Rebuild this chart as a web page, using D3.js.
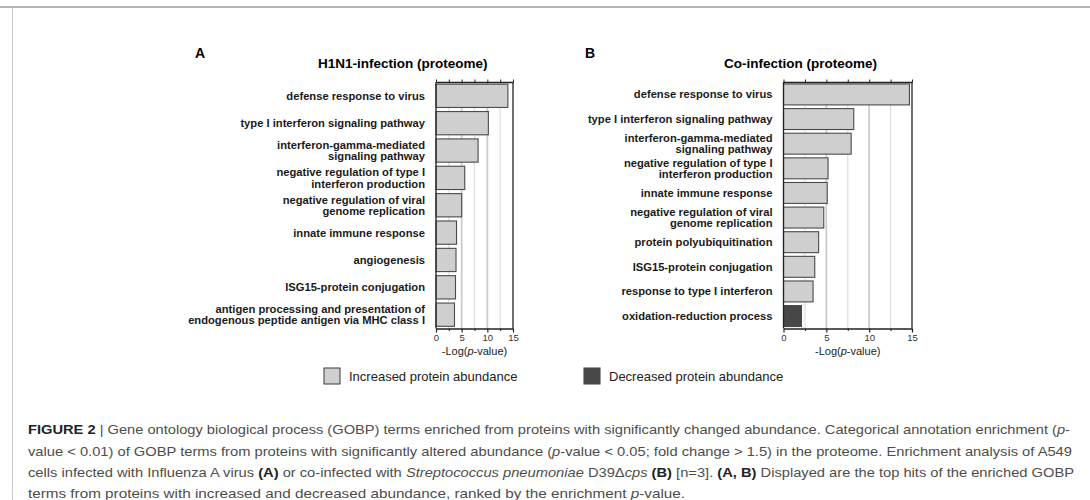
<!DOCTYPE html>
<html>
<head>
<meta charset="utf-8">
<script src="https://cdn.jsdelivr.net/npm/d3@7"></script>
<style>
  body { margin: 0; background: #fff; }
  svg { display: block; font-family: "Liberation Sans", Arial, sans-serif; }
</style>
</head>
<body>
<svg id="fig" width="1090" height="500"></svg>
<script>
// panel A: H1N1-infection
const termsA = [
  "defense response to virus",
  "type I interferon signaling pathway",
  "interferon-gamma-mediated\nsignaling pathway",
  "negative regulation of type I\ninterferon production",
  "negative regulation of viral\ngenome replication",
  "innate immune response",
  "angiogenesis",
  "ISG15-protein conjugation",
  "antigen processing and presentation of\nendogenous peptide antigen via MHC class I"
];
const valuesA = [14.0, 10.2, 8.2, 5.6, 5.0, 4.0, 3.9, 3.8, 3.6];
const directionA = ["up","up","up","up","up","up","up","up","up"];

// panel B: co-infection
const termsB = [
  "defense response to virus",
  "type I interferon signaling pathway",
  "interferon-gamma-mediated\nsignaling pathway",
  "negative regulation of type I\ninterferon production",
  "innate immune response",
  "negative regulation of viral\ngenome replication",
  "protein polyubiquitination",
  "ISG15-protein conjugation",
  "response to type I interferon",
  "oxidation-reduction process"
];
const valuesB = [14.7, 8.2, 7.9, 5.2, 5.1, 4.7, 4.1, 3.65, 3.45, 2.1];
const directionB = ["up","up","up","up","up","up","up","up","up","down"];

const xDomain = [0, 15];
const majorTicks = [0, 5, 10, 15];
const minorTicks = [2.5, 7.5, 12.5];
const gridTicks = [2.5, 5, 7.5, 10, 12.5];

const legendLabels = ["Increased protein abundance", "Decreased protein abundance"];
const fillFor = {up: "#cfcfcf", down: "#474747"};

const svg = d3.select("#fig");

// figure frame
svg.append("line").attr("x1", 0).attr("x2", 1090).attr("y1", 7).attr("y2", 7)
  .attr("stroke", "#b4b4b4").attr("stroke-width", 2);
svg.append("line").attr("x1", 12.5).attr("x2", 12.5).attr("y1", 8).attr("y2", 500)
  .attr("stroke", "#c8c8c8").attr("stroke-width", 1);

function drawPanel(opt){
  const g = svg.append("g");
  const x = d3.scaleLinear().domain(xDomain).range([opt.x0, opt.x1]);
  const y = d3.scaleBand().domain(opt.terms).range([82, 328.5])
    .paddingInner(0.15).paddingOuter(0.08);

  // letter + title
  g.append("text").attr("x", opt.letterX).attr("y", 58)
    .attr("font-size", 14).attr("font-weight", "bold").text(opt.letter);
  g.append("text").attr("x", opt.titleX).attr("y", 68)
    .attr("font-size", 13.5).attr("font-weight", "bold").text(opt.title);

  // gridlines
  g.selectAll(".grid").data(gridTicks).join("line")
    .attr("x1", d => x(d)).attr("x2", d => x(d))
    .attr("y1", 82).attr("y2", 328.5)
    .attr("stroke", d => d % 5 === 0 ? "#cccccc" : "#dddddd")
    .attr("stroke-width", d => d % 5 === 0 ? 1.8 : 1.2);

  // bars
  g.selectAll(".bar").data(opt.values).join("rect")
    .attr("x", x(0))
    .attr("y", (d, i) => y(opt.terms[i]))
    .attr("width", d => x(d) - x(0))
    .attr("height", y.bandwidth())
    .attr("fill", (d, i) => fillFor[opt.dir[i]])
    .attr("stroke", "#4a4a4a").attr("stroke-width", 1.1);

  // category labels
  g.selectAll(".lab").data(opt.terms).join("text")
    .attr("font-size", 11.2).attr("font-weight", "bold").attr("fill", "#1a1a1a")
    .attr("text-anchor", "end")
    .each(function(d){
      const lines = d.split("\n");
      const cy = y(d) + y.bandwidth() / 2;
      const t = d3.select(this);
      lines.forEach((ln, k) => {
        t.append("tspan").attr("x", opt.x0 - 11)
          .attr("y", cy + 4 + (k - (lines.length - 1) / 2) * 11.5)
          .text(ln);
      });
    });

  // frame: left, right
  g.append("line").attr("x1", x(0)).attr("x2", x(0)).attr("y1", 82).attr("y2", 328.5)
    .attr("stroke", "#222").attr("stroke-width", 1.3);
  g.append("line").attr("x1", x(15)).attr("x2", x(15)).attr("y1", 82).attr("y2", 328.5)
    .attr("stroke", "#222").attr("stroke-width", 1.3);

  // top axis (ticks only)
  const top = g.append("g").attr("transform", "translate(0,82)")
    .call(d3.axisTop(x).tickValues([0].concat(gridTicks, [15])).tickSize(2.5).tickSizeOuter(0).tickFormat(""));
  top.select(".domain").attr("stroke", "#222").attr("stroke-width", 1.3);
  top.selectAll(".tick line").attr("stroke", "#222");

  // bottom axis
  const bot = g.append("g").attr("transform", "translate(0,328.5)")
    .call(d3.axisBottom(x).tickValues(majorTicks).tickSize(4).tickSizeOuter(0).tickPadding(2));
  bot.select(".domain").attr("stroke", "#222").attr("stroke-width", 1.3);
  bot.selectAll(".tick line").attr("stroke", "#222").attr("stroke-width", 1.2);
  bot.selectAll(".tick text").attr("font-size", 9.5).attr("fill", "#333")
    .attr("font-family", "Liberation Sans, Arial, sans-serif");
  const minor = g.append("g").attr("transform", "translate(0,328.5)")
    .call(d3.axisBottom(x).tickValues(minorTicks).tickSize(2.5).tickFormat(""));
  minor.select(".domain").remove();
  minor.selectAll(".tick line").attr("stroke", "#222");

  // axis title
  const xt = g.append("text").attr("x", (opt.x0 + opt.x1) / 2).attr("y", 355)
    .attr("text-anchor", "middle").attr("font-size", 11).attr("fill", "#222");
  xt.append("tspan").text("-Log(");
  xt.append("tspan").attr("font-style", "italic").text("p");
  xt.append("tspan").text("-value)");
}

drawPanel({letter: "A", letterX: 195, title: "H1N1-infection (proteome)", titleX: 318,
  terms: termsA, values: valuesA, dir: directionA, x0: 436, x1: 513});
drawPanel({letter: "B", letterX: 585, title: "Co-infection (proteome)", titleX: 724,
  terms: termsB, values: valuesB, dir: directionB, x0: 783.5, x1: 912});

// legend
const legX = [324, 584];
const leg = svg.append("g").selectAll("g").data(legendLabels).join("g")
  .attr("transform", (d, i) => `translate(${legX[i]},368)`);
leg.append("rect").attr("width", 16).attr("height", 16)
  .attr("fill", (d, i) => i === 0 ? fillFor.up : fillFor.down)
  .attr("stroke", "#4a4a4a").attr("stroke-width", 1.1);
leg.append("text").attr("x", 25).attr("y", 12.5).attr("font-size", 13)
  .attr("fill", "#222").text(d => d);

// caption
const caption = [
  [["FIGURE 2", "b"], [" | Gene ontology biological process (GOBP) terms enriched from proteins with significantly changed abundance. Categorical annotation enrichment (", ""], ["p", "i"], ["-", ""]],
  [["value < 0.01) of GOBP terms from proteins with significantly altered abundance (", ""], ["p", "i"], ["-value < 0.05; fold change > 1.5) in the proteome. Enrichment analysis of A549", ""]],
  [["cells infected with Influenza A virus ", ""], ["(A)", "b"], [" or co-infected with ", ""], ["Streptococcus pneumoniae", "i"], [" D39\u0394", ""], ["cps", "i"], [" ", ""], ["(B)", "b"], [" [n=3]. ", ""], ["(A, B)", "b"], [" Displayed are the top hits of the enriched GOBP", ""]],
  [["terms from proteins with increased and decreased abundance, ranked by the enrichment ", ""], ["p", "i"], ["-value.", ""]]
];
const capLen = [1042, 1044, 1046, 657];
const capY = [434, 456, 477, 498];
caption.forEach((line, i) => {
  const t = svg.append("text").attr("x", 28).attr("y", capY[i])
    .attr("font-size", 13).attr("fill", "#4d4d4d")
    .attr("textLength", capLen[i]).attr("lengthAdjust", "spacingAndGlyphs");
  line.forEach(([s, st]) => {
    const sp = t.append("tspan").text(s);
    if (st === "b") sp.attr("font-weight", "bold").attr("fill", "#222");
    if (st === "i") sp.attr("font-style", "italic");
  });
});
</script>
</body>
</html>
